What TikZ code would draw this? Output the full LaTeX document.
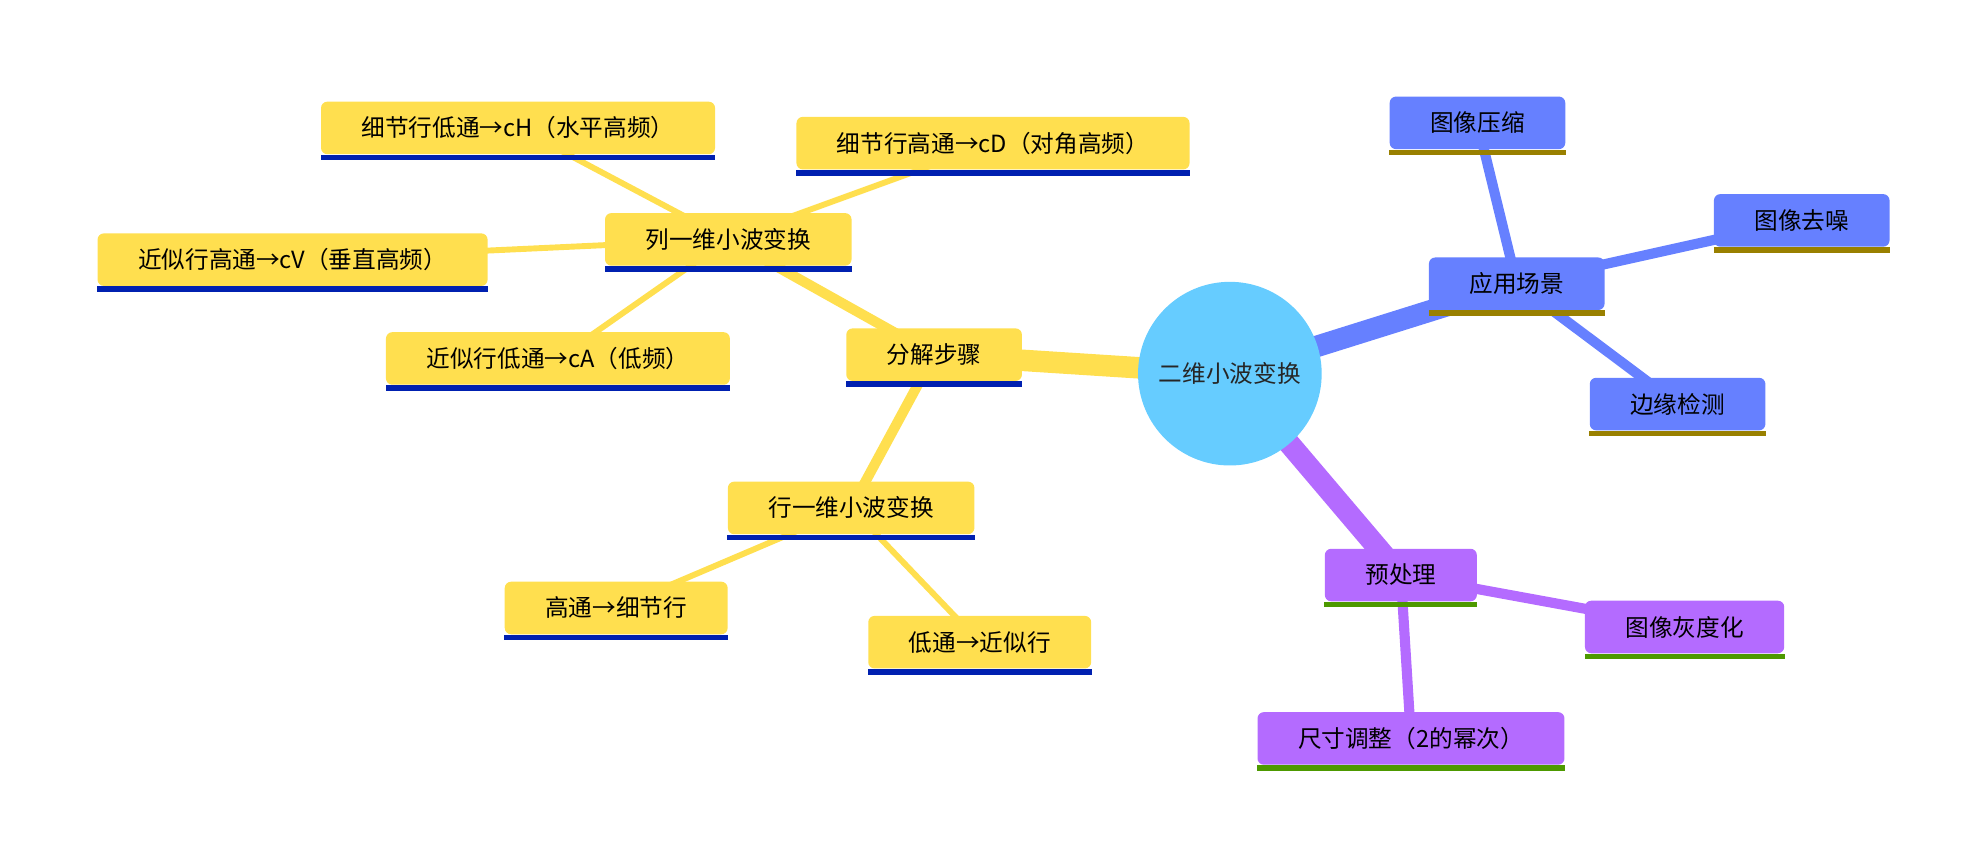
\documentclass[tikz,border=0pt]{standalone}
\usepackage{fontspec}
\setmainfont{Noto Sans CJK SC}
\usetikzlibrary{backgrounds}
\definecolor{rootblue}{HTML}{66CCFF}
\definecolor{yfill}{HTML}{FFDF4F}
\definecolor{yunder}{HTML}{0020B0}
\definecolor{bfill}{HTML}{6680FF}
\definecolor{bunder}{HTML}{998000}
\definecolor{pfill}{HTML}{B46BFF}
\definecolor{punder}{HTML}{4D9900}
\tikzset{
  box/.style = {
    rounded corners=3pt,
    inner xsep=19.2pt,
    inner ysep=0pt,
    minimum height=24.9pt,
    text=black,
    font=\fontsize{11.2pt}{13pt}\selectfont
  },
  ybox/.style = {box, fill=yfill},
  bbox/.style = {box, fill=bfill},
  pbox/.style = {box, fill=pfill},
  edgeA/.style = {line width=10.2pt},
  edgeB/.style = {line width=4.8pt},
  edgeC/.style = {line width=2.8pt}
}

\begin{document}
\begin{tikzpicture}[x=0.6pt,y=-0.6pt]
  \pgfmathsetmacro{\rroot}{72.5}     % radius of root circle
  \pgfmathsetmacro{\hbar}{2.7}       % thickness of bar below boxes (pt)
  \useasboundingbox (0,0) rectangle (1568,682);
  % root
  \node[circle,fill=rootblue,minimum size={2*\rroot*0.6pt},inner sep=0pt,
        text=black!85,font=\fontsize{11.2pt}{13pt}\selectfont] (root) at (971,295) {二维小波变换};
  % decomposition branch
  \node[ybox] (fenjie) at (737.5,280) {分解步骤};
  \node[ybox] (lie)    at (575,189)   {列一维小波变换};
  \node[ybox] (cH)     at (409,101)   {细节行低通→cH（水平高频）};
  \node[ybox] (cD)     at (784,113)   {细节行高通→cD（对角高频）};
  \node[ybox] (cV)     at (231,205)   {近似行高通→cV（垂直高频）};
  \node[ybox] (cA)     at (440.5,283) {近似行低通→cA（低频）};
  \node[ybox] (hang)   at (672,401)   {行一维小波变换};
  \node[ybox] (gao)    at (486.5,480) {高通→细节行};
  \node[ybox] (di)     at (773.5,507) {低通→近似行};
  % application branch
  \node[bbox] (yingyong) at (1197.5,224) {应用场景};
  \node[bbox] (yasuo)    at (1166.5,97)  {图像压缩};
  \node[bbox] (quzao)    at (1422.5,174) {图像去噪};
  \node[bbox] (bianyuan) at (1324.5,319) {边缘检测};
  % preprocessing branch
  \node[pbox] (yuchuli) at (1106,454) {预处理};
  \node[pbox] (huidu)   at (1330,495) {图像灰度化};
  \node[pbox] (chicun)  at (1114,583) {尺寸调整（2的幂次）};
  % bars
  \foreach \n in {fenjie,lie,cH,cD,cV,cA,hang,gao,di}
    \fill[yunder] (\n.south west) rectangle ([yshift=-\hbar pt]\n.south east);
  \foreach \n in {yingyong,yasuo,quzao,bianyuan}
    \fill[bunder] (\n.south west) rectangle ([yshift=-\hbar pt]\n.south east);
  \foreach \n in {yuchuli,huidu,chicun}
    \fill[punder] (\n.south west) rectangle ([yshift=-\hbar pt]\n.south east);
  % edges
  \begin{scope}[on background layer]
    \draw[edgeA,yfill] (root.center) -- (fenjie.center);
    \draw[edgeB,yfill] (fenjie.center) -- (lie.center);
    \draw[edgeB,yfill] (fenjie.center) -- (hang.center);
    \draw[edgeC,yfill] (lie.center) -- (cH.center);
    \draw[edgeC,yfill] (lie.center) -- (cD.center);
    \draw[edgeC,yfill] (lie.center) -- (cV.center);
    \draw[edgeC,yfill] (lie.center) -- (cA.center);
    \draw[edgeC,yfill] (hang.center) -- (gao.center);
    \draw[edgeC,yfill] (hang.center) -- (di.center);
    \draw[edgeA,bfill] (root.center) -- (yingyong.center);
    \draw[edgeB,bfill] (yingyong.center) -- (yasuo.center);
    \draw[edgeB,bfill] (yingyong.center) -- (quzao.center);
    \draw[edgeB,bfill] (yingyong.center) -- (bianyuan.center);
    \draw[edgeA,pfill] (root.center) -- (yuchuli.center);
    \draw[edgeB,pfill] (yuchuli.center) -- (huidu.center);
    \draw[edgeB,pfill] (yuchuli.center) -- (chicun.center);
  \end{scope}
\end{tikzpicture}
\end{document}
